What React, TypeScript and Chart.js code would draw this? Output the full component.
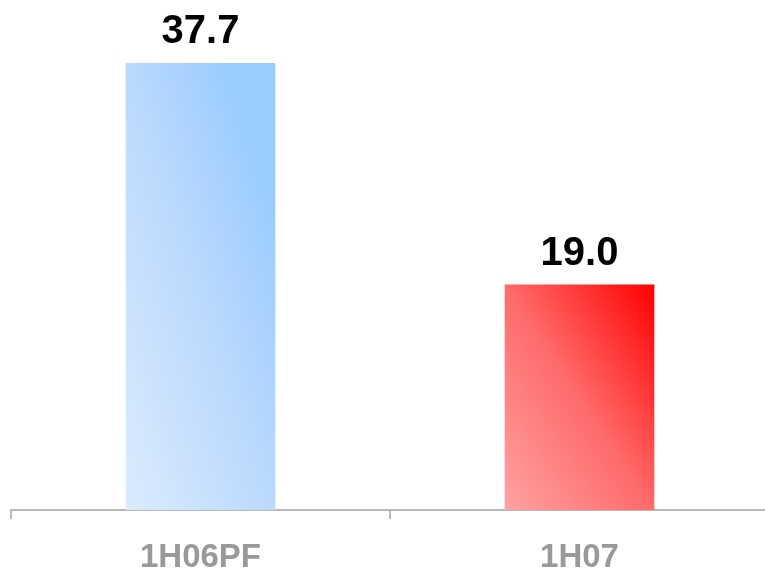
import React, { useEffect, useRef } from "react";
import { Chart, registerables } from "chart.js";

Chart.register(...registerables);

// Periods and their values
const categories: string[] = ["1H06PF", "1H07"];
const values: number[] = [37.7, 19.0];

// Gradient stops per bar: [offset, colour], bottom-left → top-right
const barGradients: [number, string][][] = [
  [
    [0, "#dcebfd"],
    [0.5, "#bad9fd"],
    [0.85, "#99ccff"],
    [1, "#99ccff"],
  ],
  [
    [0, "#ffa2a2"],
    [0.5, "#ff6a6a"],
    [1, "#ff0000"],
  ],
];

const BAR_WIDTH = 149;
const FONT = "'Liberation Sans', Arial, sans-serif";

const valueLabels = {
  id: "valueLabels",
  afterDatasetsDraw(chart: any) {
    const { ctx } = chart;
    const meta = chart.getDatasetMeta(0);
    ctx.save();
    ctx.font = `bold 40px ${FONT}`;
    ctx.fillStyle = "#000000";
    ctx.textAlign = "center";
    ctx.textBaseline = "alphabetic";
    meta.data.forEach((bar: any, i: number) => {
      ctx.fillText(values[i].toFixed(1), bar.x, bar.y - 20);
    });
    ctx.restore();
  },
};

export default function App() {
  const canvasRef = useRef<HTMLCanvasElement | null>(null);

  useEffect(() => {
    const canvas = canvasRef.current;
    if (!canvas) return;

    const chart = new Chart(canvas, {
      type: "bar",
      data: {
        labels: categories,
        datasets: [
          {
            data: values,
            barThickness: BAR_WIDTH,
            borderWidth: 0,
            backgroundColor: (c: any) => {
              const ch = c.chart;
              const stops = barGradients[c.dataIndex % barGradients.length];
              if (!ch.chartArea || c.type !== "data" || !ch.scales.x || !ch.scales.y) {
                return stops[stops.length - 1][1];
              }
              const xs = ch.scales.x;
              const ys = ch.scales.y;
              const cx = xs.getPixelForValue(c.dataIndex);
              const top = ys.getPixelForValue(c.parsed.y);
              const bottom = ys.getPixelForValue(0);
              const w = BAR_WIDTH;
              const h = Math.max(1, bottom - top);
              const left = cx - w / 2;
              // diagonal gradient scaled to the bar's own box
              const s = 2 / (1 / (w * w) + 1 / (h * h));
              const g = ch.ctx.createLinearGradient(left, bottom, left + s / w, bottom - s / h);
              stops.forEach(([o, col]) => g.addColorStop(o, col));
              return g;
            },
          },
        ],
      },
      options: {
        responsive: false,
        animation: false,
        layout: { padding: { left: 11, right: 3, top: 36, bottom: 0 } },
        plugins: {
          legend: { display: false },
          tooltip: { enabled: false },
        },
        scales: {
          x: {
            offset: true,
            grid: {
              display: true,
              offset: true,
              drawOnChartArea: false,
              drawTicks: true,
              tickLength: 9,
              tickWidth: 2,
              tickColor: "#b8b8b8",
              color: "#b8b8b8",
              lineWidth: 2,
            },
            border: { display: true, color: "#b8b8b8", width: 2 },
            ticks: {
              color: "#999999",
              padding: 22,
              font: { family: FONT, size: 33, weight: "bold", lineHeight: 1 },
            },
          },
          y: {
            display: false,
            min: 0,
            max: 40,
          },
        },
      },
      plugins: [valueLabels],
    });

    return () => chart.destroy();
  }, []);

  return (
    <div
      style={{
        position: "absolute",
        left: 0,
        top: 0,
        width: 765,
        height: 573,
        overflow: "hidden",
        background: "#ffffff",
      }}
    >
      <canvas ref={canvasRef} width={772} height={596} style={{ display: "block" }} />
    </div>
  );
}
